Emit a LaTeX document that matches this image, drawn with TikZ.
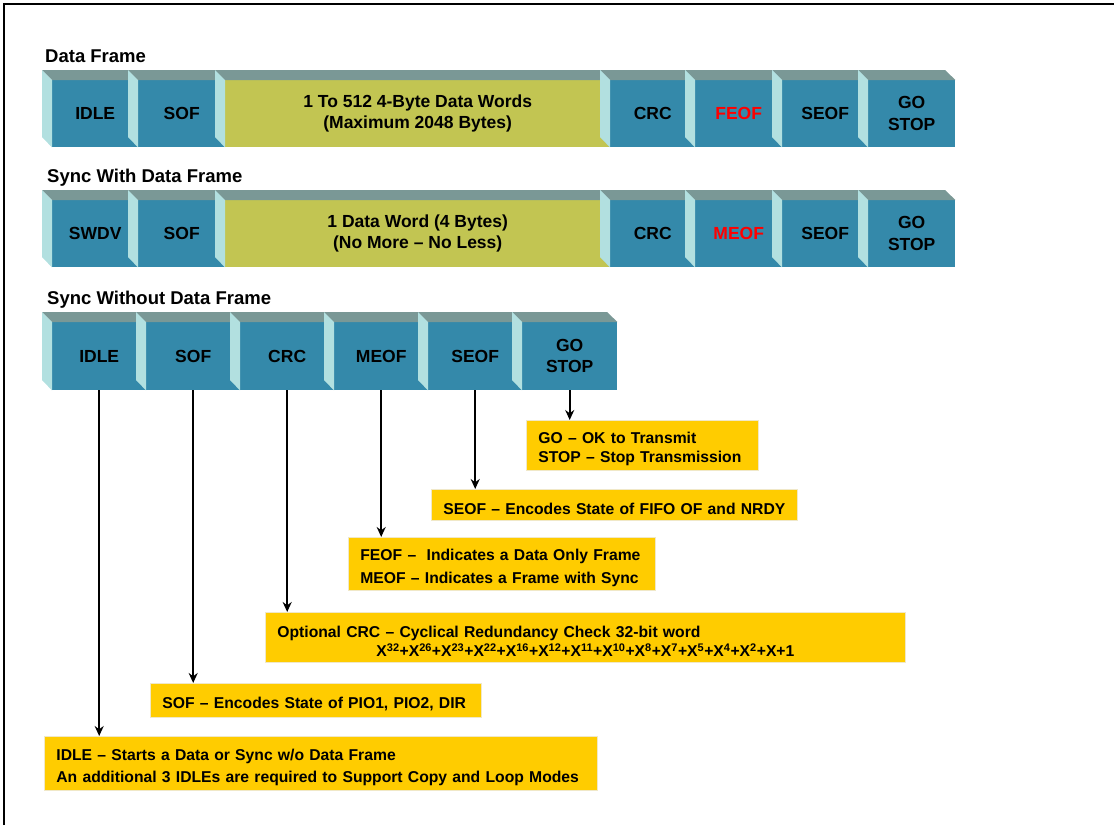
\documentclass[tikz,border=0pt]{standalone}
\usepackage{fontspec}
\setmainfont{Liberation Sans}
\usetikzlibrary{arrows.meta}

\definecolor{cellblue}{RGB}{52,137,170}
\definecolor{celltop}{RGB}{122,152,150}
\definecolor{cellside}{RGB}{178,224,224}
\definecolor{dataolive}{RGB}{194,197,82}
\definecolor{notegold}{RGB}{255,204,0}
\definecolor{noteedge}{RGB}{240,232,200}
\definecolor{eofred}{RGB}{255,0,0}

% one extruded field of a frame: name, left x, width, top y, face height, fill, label
\newcommand{\framefield}[7]{%
  \node[cell, fill=#6, minimum width=#3pt, minimum height=#5pt] (#1) at (#2+10,#4+10) {#7};
  \fill[celltop] (#1.north west) -- ++(-10,-10) -- ++(#3,0) -- (#1.north east) -- cycle;
  \fill[cellside] (#1.north west) -- ++(-10,-10) -- ++(0,#5) -- (#1.south west) -- cycle;
}

\begin{document}
\begin{tikzpicture}[x=1pt, y=-1pt,
  cell/.style={anchor=north west, inner sep=0pt, align=center, text=black, font=\fontsize{17.5}{21.5}\selectfont\bfseries},
  frame title/.style={anchor=base west, inner sep=0pt, font=\fontsize{18.5}{20}\selectfont\bfseries},
  note/.style={anchor=north west, fill=notegold, draw=noteedge, line width=0.8pt, align=left, inner xsep=12pt, inner ysep=0pt, font=\fontsize{15.7}{21}\selectfont\bfseries, execute at begin node={\rule{0pt}{19pt}}},
  callout arrow/.style={-{Stealth[length=10pt,width=9pt]}, line width=1.6pt}
]
\useasboundingbox (0,0) rectangle (1114,825);
\draw[line width=1.2pt] (4,825) -- (4,4) -- (1114,4);

% data frame
\node[frame title] (titleA) at (45,62) {Data Frame};
\framefield{idleA}{42}{86}{70}{67}{cellblue}{IDLE}
\framefield{sofA}{128}{87}{70}{67}{cellblue}{SOF}
\framefield{dataA}{215}{385}{70}{67}{dataolive}{1 To 512 4-Byte Data Words\\(Maximum 2048 Bytes)}
\framefield{crcA}{600}{85}{70}{67}{cellblue}{CRC}
\framefield{feofA}{685}{87}{70}{67}{cellblue}{\textcolor{eofred}{FEOF}}
\framefield{seofA}{772}{86}{70}{67}{cellblue}{SEOF}
\framefield{goA}{858}{87}{70}{67}{cellblue}{GO\\STOP}

% sync with data frame
\node[frame title] (titleB) at (47,182) {Sync With Data Frame};
\framefield{swdvB}{42}{86}{190}{67}{cellblue}{SWDV}
\framefield{sofB}{128}{87}{190}{67}{cellblue}{SOF}
\framefield{dataB}{215}{385}{190}{67}{dataolive}{1 Data Word (4 Bytes)\\(No More -- No Less)}
\framefield{crcB}{600}{85}{190}{67}{cellblue}{CRC}
\framefield{meofB}{685}{87}{190}{67}{cellblue}{\textcolor{eofred}{MEOF}}
\framefield{seofB}{772}{86}{190}{67}{cellblue}{SEOF}
\framefield{goB}{858}{87}{190}{67}{cellblue}{GO\\STOP}

% sync without data frame
\node[frame title] (titleC) at (47,304) {Sync Without Data Frame};
\framefield{idleC}{42}{94}{312}{68}{cellblue}{IDLE}
\framefield{sofC}{136}{94}{312}{68}{cellblue}{SOF}
\framefield{crcC}{230}{94}{312}{68}{cellblue}{CRC}
\framefield{meofC}{324}{94}{312}{68}{cellblue}{MEOF}
\framefield{seofC}{418}{94}{312}{68}{cellblue}{SEOF}
\framefield{goC}{512}{95}{312}{68}{cellblue}{GO\\STOP}

% what each field means
\node[note, text width=208pt, minimum height=50pt, font=\fontsize{15.7}{19}\selectfont\bfseries] (goNote) at (526,420)
  {\mbox{GO -- OK to Transmit}\\\mbox{STOP -- Stop Transmission}};
\node[note, text width=342pt, minimum height=31pt] (seofNote) at (431,489)
  {\mbox{SEOF -- Encodes State of FIFO OF and NRDY}};
\node[note, text width=283pt, minimum height=53pt, font=\fontsize{15.7}{23}\selectfont\bfseries] (eofNote) at (348,537)
  {\mbox{FEOF -- \ Indicates a Data Only Frame}\\\mbox{MEOF -- Indicates a Frame with Sync}};
\node[note, text width=616pt, minimum height=50pt, font=\fontsize{15.7}{19}\selectfont\bfseries] (crcNote) at (265,612)
  {\mbox{Optional CRC -- Cyclical Redundancy Check 32-bit word}\\
   \makebox[\linewidth]{X\textsuperscript{32}+X\textsuperscript{26}+X\textsuperscript{23}+X\textsuperscript{22}+X\textsuperscript{16}+X\textsuperscript{12}+X\textsuperscript{11}+X\textsuperscript{10}+X\textsuperscript{8}+X\textsuperscript{7}+X\textsuperscript{5}+X\textsuperscript{4}+X\textsuperscript{2}+X+1}};
\node[note, text width=307pt, minimum height=34pt] (sofNote) at (150,683)
  {\mbox{SOF -- Encodes State of PIO1, PIO2, DIR}};
\node[note, text width=529pt, minimum height=54pt, font=\fontsize{15.7}{22}\selectfont\bfseries] (idleNote) at (44,736)
  {\mbox{IDLE -- Starts a Data or Sync w/o Data Frame}\\\mbox{An additional 3 IDLEs are required to Support Copy and Loop Modes}};

\draw[callout arrow] (goC.south) -- (goC.south |- goNote.north);
\draw[callout arrow] (seofC.south) -- (seofC.south |- seofNote.north);
\draw[callout arrow] (meofC.south) -- (meofC.south |- eofNote.north);
\draw[callout arrow] (crcC.south) -- (crcC.south |- crcNote.north);
\draw[callout arrow] (sofC.south) -- (sofC.south |- sofNote.north);
\draw[callout arrow] (idleC.south) -- (idleC.south |- idleNote.north);
\end{tikzpicture}
\end{document}
